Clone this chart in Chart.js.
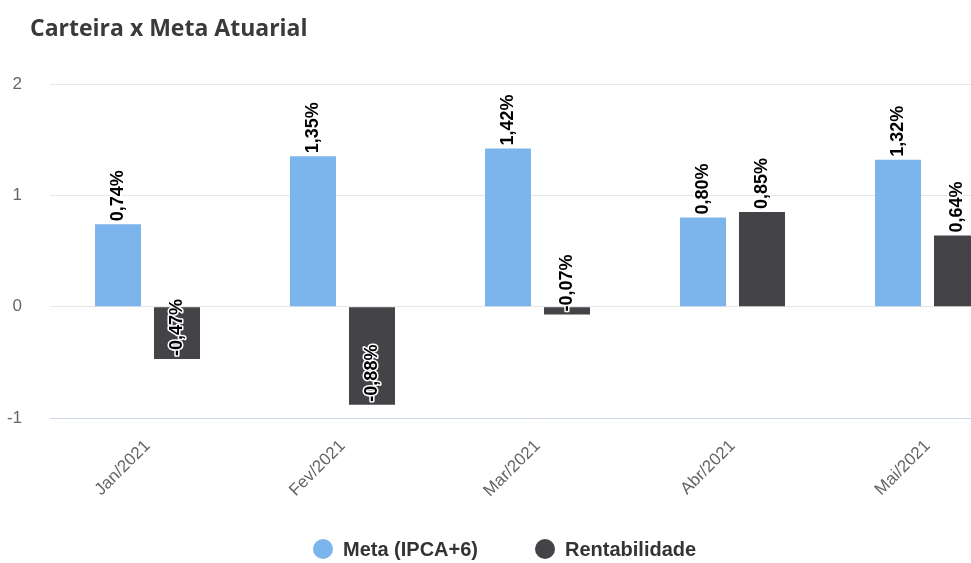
<!DOCTYPE html>
<html>
<head>
<meta charset="utf-8">
<script src="https://cdn.jsdelivr.net/npm/chart.js@4/dist/chart.umd.min.js"></script>
<style>
  html, body { margin: 0; padding: 0; background: #fff; overflow: hidden; width: 971px; height: 563px; }
  #wrap { position: relative; width: 1035px; height: 563px; }
  #title { position: absolute; left: 30px; top: 11px; font-family: "Open Sans", sans-serif; font-weight: 700; font-size: 23px; color: #3a3a3a; white-space: nowrap; }
  .leg { position: absolute; top: 537px; font-family: "Liberation Sans", Arial, sans-serif; font-weight: 700; font-size: 20px; color: #333; white-space: nowrap; line-height: 24px; }
  .dot { display: inline-block; width: 20px; height: 20px; border-radius: 50%; vertical-align: -3px; margin-right: 10px; }
</style>
</head>
<body>
<div id="wrap">
  <canvas id="c" width="1035" height="563"></canvas>
  <div id="title">Carteira x Meta Atuarial</div>
  <div class="leg" style="left:313px"><span class="dot" style="background:#7cb5ec"></span>Meta (IPCA+6)</div>
  <div class="leg" style="left:535px"><span class="dot" style="background:#434348"></span>Rentabilidade</div>
</div>
<script>
const categories = ['Jan/2021', 'Fev/2021', 'Mar/2021', 'Abr/2021', 'Mai/2021'];
const metaValues = [0.74, 1.35, 1.42, 0.80, 1.32];
const rentValues = [-0.47, -0.88, -0.07, 0.85, 0.64];
const seriesNames = ['Meta (IPCA+6)', 'Rentabilidade'];

const valueLabels = {
  id: 'valueLabels',
  afterDatasetsDraw(chart) {
    const ctx = chart.ctx;
    chart.data.datasets.forEach((ds, i) => {
      const meta = chart.getDatasetMeta(i);
      meta.data.forEach((bar, j) => {
        const v = ds.data[j];
        const txt = v.toFixed(2).replace('.', ',') + '%';
        ctx.save();
        ctx.translate(bar.x, bar.y - 3);
        ctx.rotate(-Math.PI / 2);
        ctx.font = 'bold 18px "Liberation Sans", Arial, sans-serif';
        ctx.textAlign = 'left';
        ctx.textBaseline = 'middle';
        ctx.lineJoin = 'round';
        ctx.lineWidth = 3;
        ctx.strokeStyle = '#ffffff';
        ctx.strokeText(txt, 0, 0);
        ctx.fillStyle = '#000000';
        ctx.fillText(txt, 0, 0);
        ctx.restore();
      });
    });
  }
};

new Chart(document.getElementById('c'), {
  type: 'bar',
  data: {
    labels: categories,
    datasets: [
      { label: seriesNames[0], data: metaValues, backgroundColor: '#7cb5ec', categoryPercentage: 0.605, barPercentage: 0.78 },
      { label: seriesNames[1], data: rentValues, backgroundColor: '#434348', categoryPercentage: 0.605, barPercentage: 0.78 }
    ]
  },
  options: {
    responsive: false,
    animation: false,
    layout: { padding: { top: 84, left: 0, right: 10, bottom: 0 } },
    plugins: { legend: { display: false }, title: { display: false }, tooltip: { enabled: false } },
    scales: {
      x: {
        grid: { display: false },
        border: { display: false },
        ticks: { color: '#666', font: { family: '"Liberation Sans", Arial, sans-serif', size: 17 }, minRotation: 45, maxRotation: 45, padding: 10 },
        afterFit(s) { s.height = 145; }
      },
      y: {
        min: -1, max: 2,
        border: { display: false },
        grid: { drawTicks: false, color: (c) => (c.tick && c.tick.value === -1 ? '#ccd6eb' : '#e6e6e6'), lineWidth: 1 },
        ticks: { stepSize: 1, color: '#666', padding: 28, font: { family: '"Liberation Sans", Arial, sans-serif', size: 17 } },
        afterFit(s) { s.width = 50; }
      }
    }
  },
  plugins: [valueLabels]
});
</script>
</body>
</html>
